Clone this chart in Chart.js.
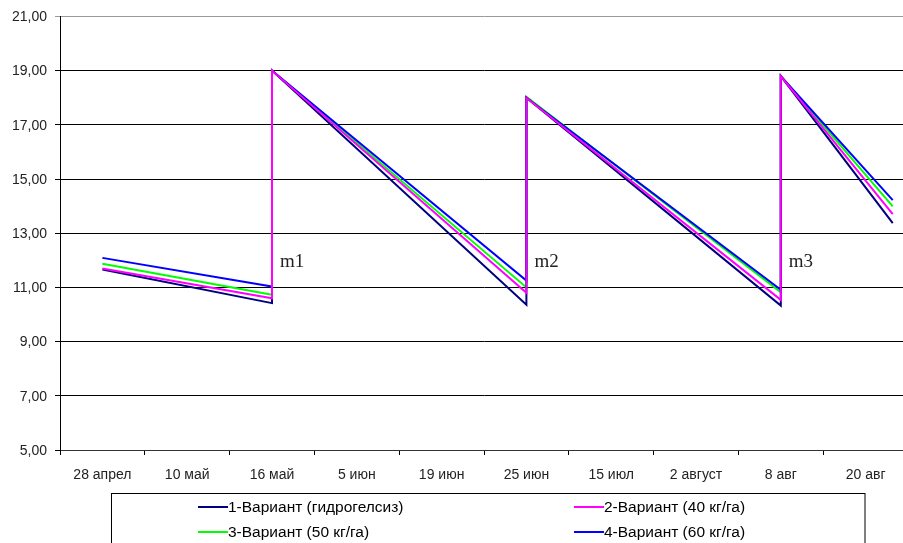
<!DOCTYPE html>
<html>
<head>
<meta charset="utf-8">
<script src="https://cdn.jsdelivr.net/npm/chart.js@4/dist/chart.umd.min.js"></script>
<style>
html, body { margin: 0; padding: 0; background: #fff; overflow: hidden; }
canvas { display: block; }
</style>
</head>
<body>
<canvas id="c" width="908" height="543"></canvas>
<script>
// ---- data ----
const categories = ['28 апрел', '10 май', '16 май', '5 июн', '19 июн', '25 июн', '15 июл', '2 август', '8 авг', '20 авг'];
// x positions of measurements, in category index units
const pointPos = [0, 2, 2, 5, 5, 8, 8, 9.32];
const seriesNames = ['1-Вариант (гидрогелсиз)', '2-Вариант (40 кг/га)', '3-Вариант (50 кг/га)', '4-Вариант (60 кг/га)'];
const series1 = [11.66, 10.42, 19.00, 10.36, 18.00, 10.33, 18.80, 13.37];
const series2 = [11.70, 10.60, 19.00, 10.80, 18.00, 10.54, 18.80, 13.70];
const series3 = [11.87, 10.73, 19.00, 11.00, 18.03, 10.82, 18.80, 13.99];
const series4 = [12.09, 11.03, 19.00, 11.25, 18.00, 10.91, 18.80, 14.22];
const yTicks = [5, 7, 9, 11, 13, 15, 17, 19, 21];
const marks = [{ text: 'm1', at: '16 май', y: 11.77 }, { text: 'm2', at: '25 июн', y: 11.77 }, { text: 'm3', at: '8 авг', y: 11.75 }];

const colors = ['#000080', '#FF00FF', '#00FF00', '#0000FF'];
const orders = [1, 0, 3, 2];
const allSeries = [series1, series2, series3, series4];

const datasets = allSeries.map((s, i) => ({
  label: seriesNames[i],
  data: s.map((v, k) => ({ x: pointPos[k], y: v })),
  xAxisID: 'xd',
  yAxisID: 'y',
  borderColor: colors[i],
  backgroundColor: colors[i],
  borderWidth: 2,
  pointRadius: 0,
  tension: 0,
  fill: false,
  borderJoinStyle: 'miter',
  order: orders[i]
}));

const FONT = 'Liberation Sans, Arial, sans-serif';

const extras = {
  id: 'extras',
  afterDraw(chart) {
    const ctx = chart.ctx;
    const xs = chart.scales.x, ys = chart.scales.y;
    // m labels
    ctx.save();
    ctx.font = '19px "Liberation Serif", "Times New Roman", serif';
    ctx.fillStyle = '#222';
    ctx.textAlign = 'left';
    ctx.textBaseline = 'alphabetic';
    marks.forEach(m => {
      const px = xs.getPixelForValue(categories.indexOf(m.at));
      ctx.fillText(m.text, px + 8, ys.getPixelForValue(m.y));
    });
    ctx.restore();
    // legend box
    ctx.save();
    ctx.strokeStyle = '#000';
    ctx.lineWidth = 1;
    ctx.strokeRect(111.5, 493.5, 753.5, 80);
    ctx.font = '15.5px ' + FONT;
    ctx.fillStyle = '#000';
    ctx.textBaseline = 'middle';
    ctx.textAlign = 'left';
    const cols = [198, 574];
    const rows = [507, 532];
    const ordered = [0, 1, 2, 3];
    ordered.forEach((di, k) => {
      const ds = chart.data.datasets[di];
      const cx = cols[k % 2], cy = rows[Math.floor(k / 2)];
      ctx.strokeStyle = ds.borderColor;
      ctx.lineWidth = 2;
      ctx.beginPath();
      ctx.moveTo(cx, cy);
      ctx.lineTo(cx + 30, cy);
      ctx.stroke();
      ctx.fillText(ds.label, cx + 30, cy + 1);
    });
    ctx.restore();
  }
};

new Chart(document.getElementById('c'), {
  type: 'line',
  data: { labels: categories, datasets },
  plugins: [extras],
  options: {
    responsive: false,
    animation: false,
    devicePixelRatio: 1,
    layout: { padding: { top: 15, left: 0, right: 0, bottom: 0 } },
    plugins: { legend: { display: false }, tooltip: { enabled: false } },
    scales: {
      x: {
        type: 'category',
        labels: categories,
        offset: true,
        position: 'bottom',
        grid: { drawOnChartArea: false, offset: true, tickLength: 5, color: '#000', lineWidth: 1 },
        border: { color: '#333', width: 1 },
        ticks: { font: { family: FONT, size: 14 }, color: '#222', padding: 12, maxRotation: 0, autoSkip: false },
        afterFit(s) { s.height = 93; }
      },
      xd: {
        type: 'linear',
        display: false,
        min: -0.5,
        max: 9.5
      },
      y: {
        min: 5,
        max: 21,
        afterBuildTicks(s) { s.ticks = yTicks.map(v => ({ value: v })); },
        ticks: {
          font: { family: FONT, size: 14 },
          color: '#222',
          padding: 8,
          labelOffset: 1,
          callback: v => v.toFixed(2).replace('.', ',')
        },
        grid: {
          color: c => (c.tick && c.tick.value === 21 ? '#999' : '#000'),
          tickLength: 5,
          lineWidth: 1
        },
        border: { color: '#000', width: 1 },
        afterFit(s) { s.width = 60; }
      }
    }
  }
});
</script>
</body>
</html>
